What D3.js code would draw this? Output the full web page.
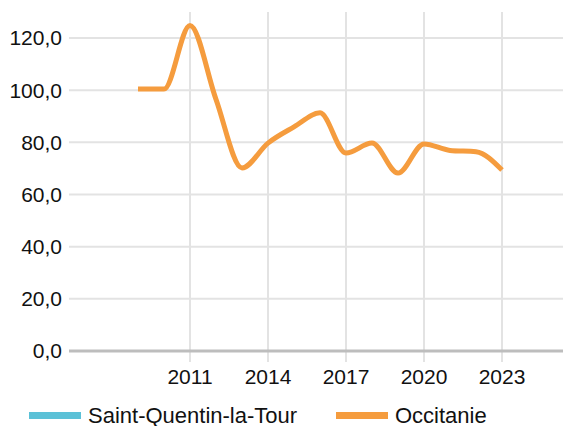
<!DOCTYPE html>
<html>
<head>
<meta charset="utf-8">
<script src="https://cdn.jsdelivr.net/npm/d3@7"></script>
<style>
  body { margin: 0; background: #fff; }
  text { font-family: "Liberation Sans", Arial, sans-serif; fill: #111; }
</style>
</head>
<body>
<svg id="chart" width="563" height="426"></svg>
<script>
const years = [2009, 2010, 2011, 2012, 2013, 2014, 2015, 2016, 2017, 2018, 2019, 2020, 2021, 2022, 2023];
const occitanie = [100.4, 100.4, 124.8, 96.5, 70.2, 79.7, 85.9, 91.3, 75.9, 79.7, 68.2, 79.4, 76.9, 76.4, 69.4];
const saintQuentin = [];
const xTicks = [2011, 2014, 2017, 2020, 2023];
const yTicks = [0, 20, 40, 60, 80, 100, 120];
const seriesNames = ["Saint-Quentin-la-Tour", "Occitanie"];
const seriesColors = ["#5bc1d7", "#f59c3e"];

const plot = { left: 69, right: 563, top: 12, bottom: 351 };

const x = d3.scaleLinear().domain([2009, 2023]).range([138, 502]);
const y = d3.scaleLinear().domain([0, 120]).range([plot.bottom, 38]);

const svg = d3.select("#chart");
const fmt = d => d.toFixed(1).replace(".", ",");

// horizontal grid
svg.append("g")
  .selectAll("line")
  .data(yTicks.filter(d => d > 0))
  .join("line")
  .attr("x1", plot.left)
  .attr("x2", plot.right)
  .attr("y1", d => y(d))
  .attr("y2", d => y(d))
  .attr("stroke", "#e3e3e3")
  .attr("stroke-width", 2);

// vertical grid
svg.append("g")
  .selectAll("line")
  .data(xTicks)
  .join("line")
  .attr("x1", d => x(d))
  .attr("x2", d => x(d))
  .attr("y1", plot.top)
  .attr("y2", plot.bottom + 11)
  .attr("stroke", "#e3e3e3")
  .attr("stroke-width", 2);

// y labels
svg.append("g")
  .selectAll("text")
  .data(yTicks)
  .join("text")
  .attr("x", 62)
  .attr("y", d => y(d))
  .attr("dy", "0.35em")
  .attr("text-anchor", "end")
  .attr("font-size", 21)
  .text(fmt);

// x labels
svg.append("g")
  .selectAll("text")
  .data(xTicks)
  .join("text")
  .attr("x", d => x(d))
  .attr("y", 384)
  .attr("text-anchor", "middle")
  .attr("font-size", 21)
  .text(d => d);

// baseline
svg.append("line")
  .attr("x1", plot.left)
  .attr("x2", plot.right)
  .attr("y1", y(0))
  .attr("y2", y(0))
  .attr("stroke", "#bdbdbd")
  .attr("stroke-width", 3);

const line = d3.line()
  .x(d => x(d[0]))
  .y(d => y(d[1]))
  .curve(d3.curveMonotoneX);

svg.append("path")
  .datum(d3.zip(years, occitanie))
  .attr("d", line)
  .attr("fill", "none")
  .attr("stroke", seriesColors[1])
  .attr("stroke-width", 5)
  .attr("stroke-linejoin", "round")
  .attr("stroke-linecap", "butt");

if (saintQuentin.length) {
  svg.append("path")
    .datum(d3.zip(years, saintQuentin))
    .attr("d", line)
    .attr("fill", "none")
    .attr("stroke", seriesColors[0])
    .attr("stroke-width", 5);
}

// legend
const legendX = [29, 336];
const lg = svg.append("g")
  .selectAll("g")
  .data(seriesNames)
  .join("g")
  .attr("transform", (d, i) => `translate(${legendX[i]},415.5)`);

lg.append("rect")
  .attr("x", 0)
  .attr("y", -3.5)
  .attr("width", 52)
  .attr("height", 7)
  .attr("fill", (d, i) => seriesColors[i]);

lg.append("text")
  .attr("x", 59)
  .attr("y", 7.5)
  .attr("font-size", 22)
  .text(d => d);
</script>
</body>
</html>
